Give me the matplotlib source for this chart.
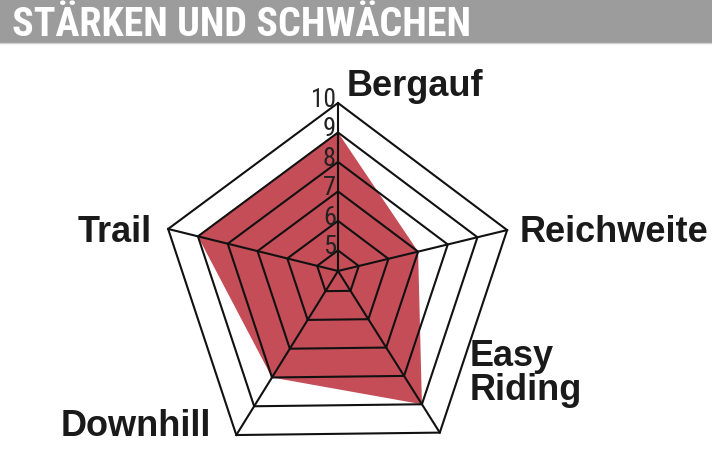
import numpy as np
import matplotlib
matplotlib.use("Agg")
import matplotlib.pyplot as plt
from matplotlib import font_manager
from matplotlib.patches import Polygon, Rectangle

# chart data
categories = ["Bergauf", "Reichweite", "Easy\nRiding", "Downhill", "Trail"]
scores = [9, 7, 9, 8, 9]
ring_values = [5, 6, 7, 8, 9, 10]
ring_labels = ["5", "6", "7", "8", "9", "10"]
title = "STÄRKEN UND SCHWÄCHEN"

# layout of the (slightly skewed) pentagon, in pixels
center = (338, 271)
axis_angles = [90, 13.6, -57.8, -121.8, 166.1]   # degrees, math convention
axis_lengths = [168, 174, 191, 193, 175]          # length of value 10
v_zero = 4.3                                      # value that maps to the center

red = "#c44d58"
label_font = ["Liberation Sans", "DejaVu Sans"]

# pick a narrow face if one is around
installed = {f.name for f in font_manager.fontManager.ttflist}
narrow = [n for n in ["Roboto Condensed", "Liberation Sans Narrow",
                      "DejaVu Sans Condensed", "Open Sans Condensed"] if n in installed]
narrow_font = narrow[:1] + ["Liberation Sans", "DejaVu Sans"]


def point(axis, value):
    f = (value - v_zero) / (10 - v_zero)
    a = np.radians(axis_angles[axis])
    r = axis_lengths[axis] * f
    return center[0] + r * np.cos(a), center[1] - r * np.sin(a)


def fit_width(txt, target):
    # shrink font until the text is no wider than target pixels
    r = fig.canvas.get_renderer()
    w = txt.get_window_extent(renderer=r).width
    if w > target:
        txt.set_fontsize(txt.get_fontsize() * target / w)


fig = plt.figure(figsize=(7.12, 4.75), dpi=100)
ax = fig.add_axes([0, 0, 1, 1])
ax.set_xlim(0, 712)
ax.set_ylim(475, 0)
ax.axis("off")

# header band
ax.add_patch(Rectangle((0, 0), 712, 42, color="#9c9c9c", zorder=1))
ax.plot([0, 712], [42.5, 42.5], color="#cfcfcf", lw=1, zorder=1)
head = ax.text(12, 36, title, color="white", fontsize=29, fontweight="bold",
               family=narrow_font, va="baseline", ha="left", zorder=2)
fit_width(head, 460)

# data polygon
n = len(categories)
data_pts = [point(i, scores[i]) for i in range(n)]
ax.add_patch(Polygon(data_pts, closed=True, facecolor=red, edgecolor="none", zorder=2))

# rings
for v in ring_values:
    pts = [point(i, v) for i in range(n)]
    ax.add_patch(Polygon(pts, closed=True, fill=False, edgecolor="#111111",
                         lw=1.5, joinstyle="miter", zorder=3))

# spokes
for i in range(n):
    x1, y1 = point(i, 10)
    ax.plot([center[0], x1], [center[1], y1], color="#111111", lw=1.5, zorder=3)

# ring labels along the top axis
for v, lab in zip(ring_values, ring_labels):
    x, y = point(0, v)
    t = ax.text(x - 2, y + 4, lab, fontsize=22, color="#222222",
                family=narrow_font, ha="right", va="baseline", zorder=4)
    fit_width(t, 12 * len(lab) + 1)

# category labels
label_pos = [(347, 96, "left"), (520, 242, "left"), (470, 400, "left"),
             (211, 436, "right"), (152, 242, "right")]
for (x, y, ha), cat in zip(label_pos, categories):
    ax.text(x, y, cat, fontsize=26, fontweight="bold", color="#1a1a1a",
            family=label_font, ha=ha, va="baseline", linespacing=0.95, zorder=4)

fig.savefig("out.png", dpi=100)
